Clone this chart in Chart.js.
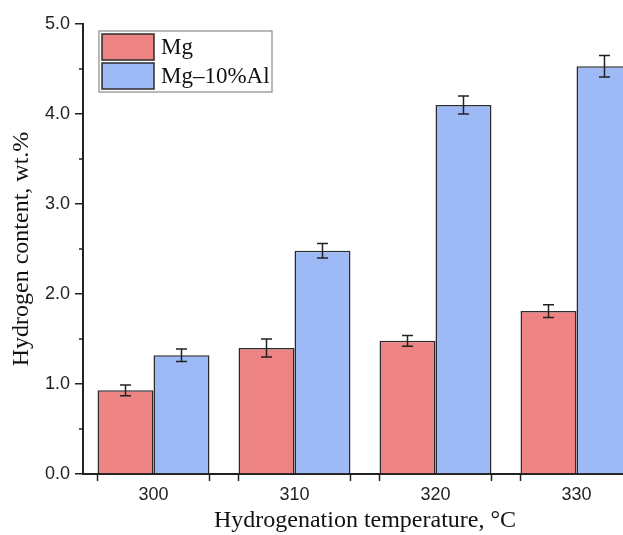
<!DOCTYPE html>
<html>
<head>
<meta charset="utf-8">
<script src="https://cdn.jsdelivr.net/npm/chart.js@4/dist/chart.umd.min.js"></script>
<style>
  html, body { margin: 0; padding: 0; background: #fff; overflow: hidden; }
  #wrap { width: 680px; height: 535px; position: relative; }
</style>
</head>
<body>
<div id="wrap"><canvas id="c"></canvas></div>
<script>
// ---- data ----
const categories = ['300', '310', '320', '330'];
const seriesNames = ['Mg', 'Mg\u201310%Al'];
const mgValues = [0.93, 1.40, 1.48, 1.81];
const mgErrors = [0.06, 0.10, 0.06, 0.07];
const mgAlValues = [1.32, 2.48, 4.10, 4.53];
const mgAlErrors = [0.07, 0.08, 0.10, 0.12];
const yMin = 0, yMax = 5, yStep = 1, yMinorStep = 0.5;
const xTitle = 'Hydrogenation temperature, \u00B0C';
const yTitle = 'Hydrogen content, wt.%';

const RED = '#EE8383';
const BLUE = '#9DBAF6';
const EDGE = '#2b2b2b';
const AXIS = '#222222';
const SERIF = '"Liberation Serif", "Times New Roman", serif';
const SANS = '"Liberation Sans", Arial, sans-serif';

const errorSets = [mgErrors, mgAlErrors];

const errorBarPlugin = {
  id: 'errorBars',
  afterDatasetsDraw(chart) {
    const ctx = chart.ctx;
    const y = chart.scales.y;
    ctx.save();
    ctx.strokeStyle = '#222';
    ctx.lineWidth = 1.5;
    chart.data.datasets.forEach((ds, di) => {
      const meta = chart.getDatasetMeta(di);
      meta.data.forEach((el, i) => {
        const v = ds.data[i], e = errorSets[di][i];
        const yt = y.getPixelForValue(v + e);
        const yb = y.getPixelForValue(v - e);
        const x = el.x, cw = 5.5;
        ctx.beginPath();
        ctx.moveTo(x, yt); ctx.lineTo(x, yb);
        ctx.moveTo(x - cw, yt); ctx.lineTo(x + cw, yt);
        ctx.moveTo(x - cw, yb); ctx.lineTo(x + cw, yb);
        ctx.stroke();
      });
    });
    ctx.restore();
  }
};

const axisExtrasPlugin = {
  id: 'axisExtras',
  afterDraw(chart) {
    const ctx = chart.ctx;
    const y = chart.scales.y;
    const area = chart.chartArea;
    ctx.save();
    ctx.strokeStyle = AXIS;
    ctx.lineWidth = 1.5;
    // minor y ticks
    for (let v = yMin + yMinorStep; v < yMax; v += yStep) {
      const py = y.getPixelForValue(v);
      ctx.beginPath();
      ctx.moveTo(area.left - 4, py); ctx.lineTo(area.left, py);
      ctx.stroke();
    }
    // x ticks at outer edges of each bar group
    const m0 = chart.getDatasetMeta(0), m1 = chart.getDatasetMeta(1);
    m0.data.forEach((el, i) => {
      const left = el.x - el.width / 2;
      const el2 = m1.data[i];
      const right = el2.x + el2.width / 2;
      [left, right].forEach(px => {
        ctx.beginPath();
        ctx.moveTo(px, area.bottom); ctx.lineTo(px, area.bottom + 7);
        ctx.stroke();
      });
    });
    // legend
    const lx = area.left + 16, ly = area.top + 7;
    const lw = 173, lh = 61;
    ctx.strokeStyle = '#8a8a8a';
    ctx.lineWidth = 1.2;
    ctx.fillStyle = '#fff';
    ctx.fillRect(lx, ly, lw, lh);
    ctx.strokeRect(lx, ly, lw, lh);
    chart.data.datasets.forEach((ds, di) => {
      const sy = ly + 3 + di * 29;
      ctx.fillStyle = ds.backgroundColor;
      ctx.fillRect(lx + 3, sy, 52, 26);
      ctx.strokeStyle = EDGE;
      ctx.lineWidth = 1.5;
      ctx.strokeRect(lx + 3, sy, 52, 26);
      ctx.fillStyle = '#111';
      ctx.font = '23px ' + SERIF;
      ctx.textBaseline = 'middle';
      ctx.textAlign = 'left';
      ctx.fillText(ds.label, lx + 62, sy + 14);
    });
    ctx.restore();
  }
};

new Chart(document.getElementById('c'), {
  type: 'bar',
  data: {
    labels: categories,
    datasets: [
      { label: seriesNames[0], data: mgValues, backgroundColor: RED, borderColor: EDGE, borderWidth: 1.5,
        categoryPercentage: 0.794, barPercentage: 1.0 },
      { label: seriesNames[1], data: mgAlValues, backgroundColor: BLUE, borderColor: EDGE, borderWidth: 1.5,
        categoryPercentage: 0.794, barPercentage: 1.0 }
    ]
  },
  options: {
    responsive: true,
    maintainAspectRatio: false,
    animation: false,
    layout: { padding: { left: 0, right: 33, top: 24, bottom: 0 } },
    plugins: { legend: { display: false }, tooltip: { enabled: false } },
    scales: {
      x: {
        grid: { display: false, drawTicks: false },
        border: { display: true, color: AXIS, width: 2 },
        ticks: { color: '#222', font: { family: SANS, size: 18 }, padding: 10, maxRotation: 0 },
        title: { display: true, text: xTitle, color: '#111', font: { family: SERIF, size: 24, lineHeight: 1 },
                 padding: { top: 0, bottom: 2 } },
        afterFit(scale) { scale.height = 61; }
      },
      y: {
        min: yMin, max: yMax,
        grid: { display: true, drawOnChartArea: false, drawTicks: true, tickLength: 8, color: AXIS, lineWidth: 1.5 },
        border: { display: true, color: AXIS, width: 2 },
        ticks: { stepSize: yStep, color: '#222', font: { family: SANS, size: 18 }, padding: 5,
                 callback: v => Number(v).toFixed(1) },
        title: { display: true, text: yTitle, color: '#111', font: { family: SERIF, size: 24, lineHeight: 1.2 },
                 padding: { top: 7, bottom: 0 } },
        afterFit(scale) { scale.width = 83; }
      }
    }
  },
  plugins: [errorBarPlugin, axisExtrasPlugin]
});
</script>
</body>
</html>
